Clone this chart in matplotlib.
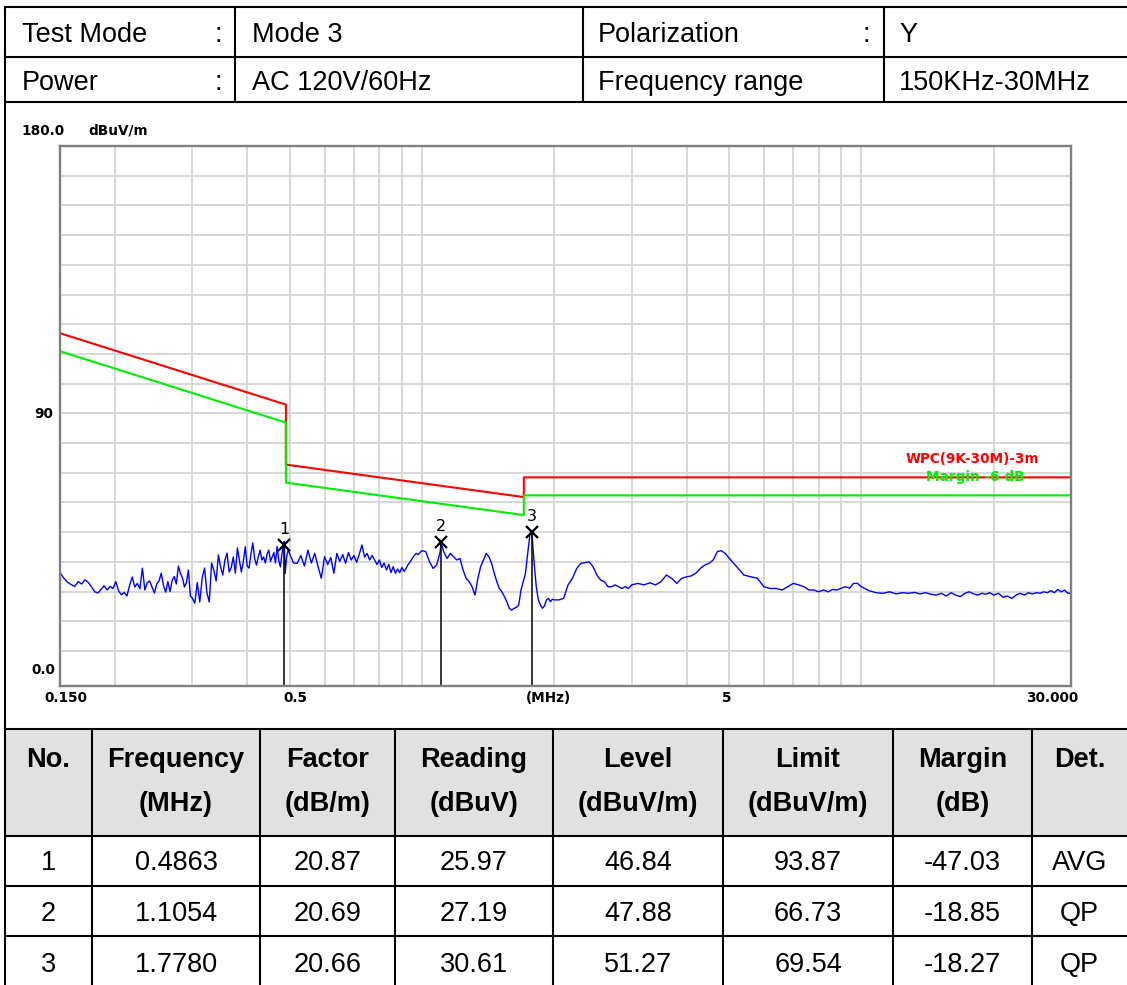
import numpy as np
import matplotlib
matplotlib.use('Agg')
from matplotlib import pyplot as plt
import matplotlib.transforms as mtransforms

W, H = 1127, 985

# ---------------- header info
info_left_label = ['Test Mode', 'Power']
info_left_value = ['Mode 3', 'AC 120V/60Hz']
info_right_label = ['Polarization', 'Frequency range']
info_right_colon = [':', '']
info_right_value = ['Y', '150KHz-30MHz']

# ---------------- limit lines (MHz, dBuV/m)
limit_freq = [0.15, 0.49, 0.49, 1.705, 1.705, 30.0]
limit_level = [117.6, 93.8, 73.8, 62.97, 69.54, 69.54]
margin_level = [111.6, 87.8, 67.8, 56.97, 63.54, 63.54]

trace_freq = [
    0.150, 0.153, 0.156, 0.159, 0.162, 0.165, 0.168, 0.171, 0.174, 0.177,
    0.180, 0.183, 0.186, 0.189, 0.192, 0.195, 0.198, 0.201, 0.204, 0.207,
    0.210, 0.213, 0.216, 0.219, 0.222, 0.225, 0.228, 0.231, 0.234, 0.237,
    0.240, 0.243, 0.246, 0.249, 0.252, 0.255, 0.258, 0.261, 0.264, 0.267,
    0.270, 0.273, 0.276, 0.279, 0.282, 0.285, 0.288, 0.291, 0.294, 0.297,
    0.300, 0.304, 0.308, 0.312, 0.316, 0.320, 0.324, 0.328, 0.332, 0.336,
    0.340, 0.344, 0.348, 0.352, 0.356, 0.360, 0.364, 0.368, 0.372, 0.376,
    0.380, 0.384, 0.388, 0.392, 0.396, 0.400, 0.404, 0.408, 0.412, 0.416,
    0.420, 0.424, 0.428, 0.432, 0.436, 0.440, 0.444, 0.448, 0.452, 0.456,
    0.460, 0.464, 0.468, 0.472, 0.476, 0.480, 0.484, 0.4863, 0.488, 0.492,
    0.496,
    0.50, 0.51, 0.52, 0.53, 0.54, 0.55, 0.56, 0.57, 0.58, 0.59,
    0.60, 0.61, 0.62, 0.63, 0.64, 0.65, 0.66, 0.67, 0.68, 0.69,
    0.70, 0.71, 0.72, 0.73, 0.74, 0.75, 0.76, 0.77, 0.78, 0.79,
    0.80, 0.81, 0.82, 0.83, 0.84, 0.85, 0.86, 0.87, 0.88, 0.89,
    0.90, 0.91, 0.92, 0.93, 0.94, 0.95, 0.96, 0.97, 0.98, 0.99,
    1.00, 1.02, 1.04, 1.06, 1.08, 1.10, 1.1054, 1.12, 1.14, 1.16,
    1.18, 1.20, 1.22, 1.24, 1.26, 1.28, 1.30, 1.32, 1.34, 1.36,
    1.38, 1.40, 1.42, 1.44, 1.46, 1.48, 1.50, 1.52, 1.54, 1.56,
    1.58, 1.60, 1.62, 1.64, 1.66, 1.68, 1.70, 1.72, 1.74, 1.76,
    1.778, 1.80, 1.82, 1.84, 1.86, 1.88, 1.90, 1.92, 1.94, 1.96,
    1.98,
    2.00, 2.05, 2.10, 2.15, 2.20, 2.25, 2.30, 2.35, 2.40, 2.45,
    2.50, 2.55, 2.60, 2.65, 2.70, 2.75, 2.80, 2.85, 2.90, 2.95,
    3.0, 3.1, 3.2, 3.3, 3.4, 3.5, 3.6, 3.7, 3.8, 3.9,
    4.0, 4.1, 4.2, 4.3, 4.4, 4.5, 4.6, 4.7, 4.8, 4.9,
    5.0, 5.2, 5.4, 5.6, 5.8, 6.0, 6.2, 6.4, 6.6, 6.8,
    7.0, 7.2, 7.4, 7.6, 7.8, 8.0, 8.2, 8.4, 8.6, 8.8,
    9.0, 9.2, 9.4, 9.6, 9.8,
    10.0, 10.4, 10.8, 11.2, 11.6, 12.0, 12.4, 12.8, 13.2, 13.6,
    14.0, 14.4, 14.8, 15.2, 15.6, 16.0, 16.4, 16.8, 17.2, 17.6,
    18.0, 18.4, 18.8, 19.2, 19.6,
    20.0, 20.5, 21.0, 21.5, 22.0, 22.5, 23.0, 23.5, 24.0, 24.5,
    25.0, 25.5, 26.0, 26.5, 27.0, 27.5, 28.0, 28.5, 29.0, 29.5,
    30.0,
]
trace_level = [
    37.8, 36.0, 34.6, 33.8, 33.2, 34.8, 34.0, 35.4, 34.5, 33.0,
    31.4, 31.0, 32.2, 33.4, 32.0, 33.2, 32.5, 34.8, 31.6, 30.4,
    31.2, 30.0, 33.5, 36.3, 33.0, 34.2, 32.4, 39.3, 32.0, 34.5,
    35.0, 33.0, 31.0, 34.0, 35.0, 37.6, 33.5, 31.3, 34.8, 31.5,
    35.2, 36.5, 34.0, 40.0, 37.5, 36.0, 33.0, 34.5, 38.7, 30.0,
    29.3, 27.6, 34.5, 28.0, 36.0, 39.3, 31.0, 28.0, 41.0, 38.5,
    35.0, 43.7, 39.7, 37.0, 42.0, 44.3, 38.0, 39.5, 43.0, 37.6,
    46.0, 42.0, 38.0, 41.5, 46.4, 40.0, 39.3, 44.0, 47.7, 42.5,
    40.3, 43.0, 45.3, 42.0, 43.0, 41.0, 44.0, 45.3, 41.5, 43.0,
    44.5, 41.0, 46.5, 42.0, 39.7, 44.0, 47.7, 48.2, 37.5, 43.0,
    45.5,
    44.0, 41.0, 40.9, 43.5, 40.0, 45.3, 41.0, 44.2, 39.8, 35.9,
    43.1, 40.5, 42.8, 37.6, 44.2, 41.5, 43.8, 40.9, 44.5, 42.0,
    43.5, 41.2, 44.0, 47.0, 43.0, 44.2, 42.0, 43.5, 42.0, 40.5,
    42.0, 39.5, 41.0, 38.7, 40.5, 37.8, 39.8, 37.6, 39.0, 37.8,
    39.5, 38.2, 39.2, 40.5, 41.4, 42.5, 43.5, 44.2, 43.8, 44.5,
    45.1, 44.8, 41.4, 39.2, 40.3, 44.8, 47.8, 44.8, 42.5, 44.2,
    43.1, 42.0, 42.5, 38.7, 35.9, 34.8, 33.1, 30.3, 35.9, 39.8,
    42.0, 44.2, 43.1, 40.9, 37.6, 34.8, 32.5, 31.4, 29.8, 28.1,
    25.9, 25.3, 25.9, 26.2, 27.0, 32.0, 34.8, 37.6, 44.2, 50.3,
    51.3, 40.9, 33.1, 28.7, 27.0, 25.9, 26.7, 28.7, 29.2, 28.1,
    28.9,
    28.7, 28.7, 29.2, 33.7, 35.9, 39.2, 40.9, 41.1, 41.4, 39.8,
    37.0, 35.3, 34.8, 33.1, 33.1, 33.7, 33.1, 32.5, 33.1, 32.5,
    33.7, 34.2, 33.7, 34.4, 33.7, 34.8, 37.0, 35.9, 34.2, 35.9,
    36.4, 36.7, 37.6, 39.2, 40.3, 40.9, 42.0, 44.8, 45.1, 44.2,
    42.6, 39.8, 37.0, 36.4, 35.9, 33.1, 32.5, 32.5, 32.0, 33.1,
    34.2, 33.7, 33.1, 32.0, 32.0, 31.4, 32.0, 31.4, 32.2, 32.0,
    32.6, 33.1, 32.6, 34.2, 34.2,
    33.1, 31.8, 31.1, 30.9, 31.4, 30.7, 31.1, 30.9, 31.2, 30.7,
    31.1, 30.6, 30.3, 30.9, 30.0, 31.1, 30.3, 29.8, 30.9, 31.4,
    30.7, 30.3, 30.9, 30.6, 31.1,
    30.3, 30.9, 29.6, 30.0, 29.2, 30.3, 30.9, 30.3, 31.1, 30.7,
    31.1, 30.9, 31.4, 31.1, 31.8, 31.1, 32.2, 31.4, 32.0, 30.9,
    31.0,
]

# ---------------- marked peaks / result table
marker_no = [1, 2, 3]
marker_freq = [0.4863, 1.1054, 1.7780]
factor = [20.87, 20.69, 20.66]
reading = [25.97, 27.19, 30.61]
marker_level = [46.84, 47.88, 51.27]
limit_at = [93.87, 66.73, 69.54]
margin = [-47.03, -18.85, -18.27]
detector = ['AVG', 'QP', 'QP']

col_titles = ['No.', 'Frequency', 'Factor', 'Reading', 'Level', 'Limit', 'Margin', 'Det.']
col_units = ['', '(MHz)', '(dB/m)', '(dBuV)', '(dBuV/m)', '(dBuV/m)', '(dB)', '']

grid_freq = [0.2, 0.3, 0.4, 0.5, 0.6, 0.7, 0.8, 0.9, 1, 2, 3, 4, 5, 6, 7, 8, 9, 10, 20]

fig = plt.figure(figsize=(W / 100, H / 100), dpi=100)
fig.patch.set_facecolor('white')

# overlay in pixel coordinates for the report frame
bg = fig.add_axes([0, 0, 1, 1])
bg.set_xlim(0, W)
bg.set_ylim(H, 0)
bg.axis('off')

tfont = dict(family='Liberation Sans', size=19.5, color='black')
lk = dict(color='black', lw=1.5, solid_capstyle='butt')

# header table
for y in [7, 57, 102]:
    bg.plot([5, W], [y, y], **lk)
for x in [235, 583, 884]:
    bg.plot([x, x], [7, 102], **lk)
bg.plot([5, 5], [6, H], **lk)
for i, base in enumerate([42, 90]):
    bg.text(22, base, info_left_label[i], va='baseline', ha='left', **tfont)
    bg.text(218, base, ':', va='baseline', ha='center', **tfont)
    bg.text(252, base, info_left_value[i], va='baseline', ha='left', **tfont)
    bg.text(598, base, info_right_label[i], va='baseline', ha='left', **tfont)
    bg.text(866, base, info_right_colon[i], va='baseline', ha='center', **tfont)
    bg.text(899, base, info_right_value[i], va='baseline', ha='left', **tfont)

# result table
col_edges = [5, 92, 260, 395, 553, 723, 893, 1032, W]
bg.fill_between([5, W], 729, 836, color='#e1e1e1', lw=0)
for y in [729, 836, 886, 936]:
    bg.plot([5, W], [y, y], **lk)
for x in col_edges[1:-1]:
    bg.plot([x, x], [729, H], **lk)
rows = []
for k in range(len(marker_no)):
    rows.append([str(marker_no[k]), '%.4f' % marker_freq[k], '%.2f' % factor[k],
                 '%.2f' % reading[k], '%.2f' % marker_level[k], '%.2f' % limit_at[k],
                 '%.2f' % margin[k], detector[k]])
for c in range(len(col_titles)):
    cx = (col_edges[c] + col_edges[c + 1]) / 2
    bg.text(cx, 767, col_titles[c], ha='center', va='baseline', weight='bold', **tfont)
    bg.text(cx, 811, col_units[c], ha='center', va='baseline', weight='bold', **tfont)
    for r, base in enumerate([870, 921, 972]):
        bg.text(cx, base, rows[r][c], ha='center', va='baseline', **tfont)

# ---------------- the spectrum chart
ax = fig.add_axes([60 / W, 1 - 686 / H, (1071 - 60) / W, (686 - 146) / H])
ax.set_xscale('log')
ax.set_xlim(0.15, 30)
ax.set_ylim(0, 180)
ax.set_xticks(grid_freq)
ax.set_xticks([], minor=True)
ax.set_yticks(180 - 9.9 * np.arange(1, 18))
ax.tick_params(length=0, labelbottom=False, labelleft=False)
ax.grid(True, color='#d4d4d4', lw=1.3)
ax.set_axisbelow(True)
for s in ax.spines.values():
    s.set_color('#808080')
    s.set_linewidth(1.7)

ax.plot(trace_freq, trace_level, color='#0000ff', lw=1.0)
ax.plot(limit_freq, limit_level, color='#ff0000', lw=1.5)
ax.plot(limit_freq, margin_level, color='#00ee00', lw=1.5)
ax.vlines(marker_freq, 0, marker_level, color='black', lw=1.1)
ax.plot(marker_freq, marker_level, 'x', color='black', ms=8, mew=1.6)
for n, f, lv in zip(marker_no, marker_freq, marker_level):
    ax.annotate(str(n), (f, lv), xytext=(0, 8), textcoords='offset pixels',
                ha='center', va='bottom', fontsize=11.5, family='DejaVu Sans')

cf = dict(family='DejaVu Sans', weight='bold', size=9.8)
xb = mtransforms.blended_transform_factory(ax.transData, ax.transAxes)
yb = mtransforms.blended_transform_factory(ax.transAxes, ax.transData)
ax.annotate('180.0', (0, 180), xycoords=yb, xytext=(5, 15), textcoords='offset pixels',
            ha='right', va='center', **cf)
ax.annotate('dBuV/m', (0, 180), xycoords=yb, xytext=(28, 15), textcoords='offset pixels',
            ha='left', va='center', **cf)
ax.annotate('90', (0, 90), xycoords=yb, xytext=(-7, 2), textcoords='offset pixels',
            ha='right', va='center', **cf)
ax.annotate('0.0', (0, 0), xycoords=yb, xytext=(-5, 16), textcoords='offset pixels',
            ha='right', va='center', **cf)
for lab, f, dx in [('0.150', 0.15, 6), ('0.5', 0.5, 6), ('5', 5, -2)]:
    ax.annotate(lab, (f, 0), xycoords=xb, xytext=(dx, -12), textcoords='offset pixels',
                ha='center', va='center', **cf)
ax.annotate('30.000', (30, 0), xycoords=xb, xytext=(7, -12), textcoords='offset pixels',
            ha='right', va='center', **cf)
ax.text(0.4832, -12 / 540, '(MHz)', transform=ax.transAxes, ha='center', va='center', **cf)
ax.text(0.902, 0.4204, 'WPC(9K-30M)-3m', transform=ax.transAxes, ha='center', va='center',
        color='#ff0000', **cf)
ax.text(0.905, 0.387, 'Margin -6 dB', transform=ax.transAxes, ha='center', va='center',
        color='#00ee00', **cf)

fig.savefig('out.png', dpi=100)
